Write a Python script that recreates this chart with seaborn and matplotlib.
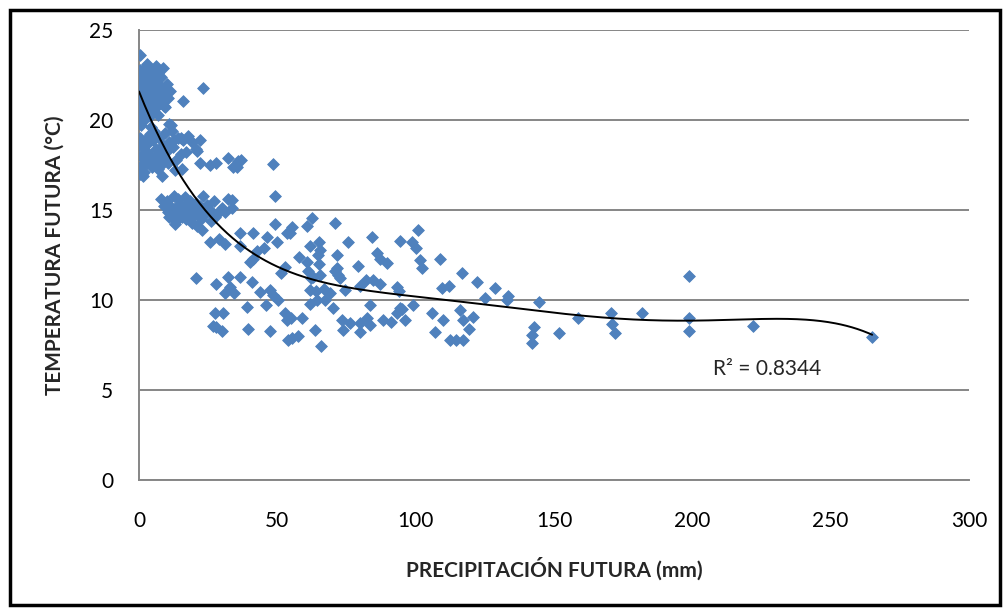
import numpy as np
import pandas as pd
import matplotlib
matplotlib.use("Agg")
import matplotlib.pyplot as plt
import seaborn as sns
from matplotlib.patches import Rectangle

# ---- data ----
precip_a = [0.3, 0.5, 0.2, 0.8, 0.4, 0.1, 0.6, 0.3, 1.2, 1.5, 1.1, 1.8, 1.4, 2.0, 2.3, 2.6, 2.1, 2.9,
            3.3, 3.5, 3.8, 4.1, 4.4, 4.7, 5.0, 5.3, 5.6, 6.0, 6.2, 6.6, 7.0, 7.3, 7.7, 8.1, 8.5, 9.0,
            9.4, 10.0, 10.5, 11.3, 0.2, 1.0, 0.7, 2.4, 4.0, 16.0, 23.0, 9.4, 6.8, 0.1, 0.0, 0.0, 3.0,
            5.5, 8.7, 1.7, 2.7, 3.9, 4.9, 0.9, 1.3, 6.4, 7.9, 0.5, 2.2]
temp_a = [23.6, 22.8, 22.4, 22.1, 21.7, 21.3, 21.0, 20.6, 22.6, 22.0, 21.5, 21.2, 20.8, 22.9, 22.3, 21.8, 21.0, 20.5,
          22.6, 21.4, 22.0, 20.9, 22.8, 21.6, 22.3, 21.1, 20.6, 23.0, 22.1, 21.5, 22.6, 20.9, 21.9, 22.4, 21.3, 20.8,
          21.7, 22.0, 21.2, 21.6, 20.2, 20.0, 19.7, 20.1, 20.2, 21.05, 21.8, 20.7, 20.3, 22.0, 21.5, 22.6, 23.1,
          22.7, 22.9, 21.6, 22.5, 21.2, 21.9, 22.5, 21.9, 22.4, 21.1, 22.2, 21.4]

precip_b = [0.2, 0.5, 1.0, 1.3, 0.7, 2.0, 2.5, 3.0, 3.4, 3.8, 4.3, 4.6, 5.0, 5.4, 5.8, 6.3, 6.8, 7.2, 7.6,
            8.0, 8.5, 9.0, 9.5, 10.0, 10.6, 11.0, 11.6, 12.2, 12.8, 13.3, 14.0, 15.0, 16.0, 17.0, 17.7,
            19.0, 20.5, 21.0, 22.0, 22.0, 25.7, 28.0, 32.0, 35.4, 37.0, 11.0, 12.0, 15.0, 15.5, 4.5, 2.8,
            1.6, 13.0, 8.2, 0.1, 0.4, 1.9, 3.1, 6.1]
temp_b = [17.3, 17.0, 17.5, 16.9, 18.0, 17.8, 18.3, 17.6, 18.7, 19.2, 18.0, 17.4, 18.9, 19.4, 17.8, 18.4, 17.3, 19.0, 18.1,
          17.5, 18.6, 17.9, 19.3, 18.3, 17.6, 18.8, 19.7, 18.5, 18.9, 17.8, 19.0, 18.1, 18.9, 18.2, 19.1,
          18.8, 18.4, 18.3, 18.9, 17.6, 17.5, 17.6, 17.9, 17.4, 17.8, 19.8, 19.4, 19.0, 17.3, 19.6, 19.0,
          18.5, 17.2, 16.9, 18.6, 19.0, 17.1, 18.9, 17.9]

precip_c = [8, 9, 10, 10.5, 11, 12, 12.5, 13, 13.5, 14, 14.5, 15, 15.5, 16, 16.5, 17, 17.5, 18, 18.5, 19,
            19.5, 20, 20.5, 21, 21.5, 22, 22.5, 23, 24, 24.5, 25.5, 26, 27, 27.5, 29, 30, 31, 32, 33.6,
            33.6, 13, 11, 22.8, 25.7, 29, 31, 34, 35.8]
temp_c = [15.6, 15.2, 15.5, 14.9, 15.3, 14.7, 15.8, 15.1, 14.4, 15.6, 14.9, 15.3, 14.6, 15.0, 15.7, 14.5, 15.2, 14.8, 15.5, 14.3,
          15.0, 14.7, 15.4, 14.1, 14.9, 15.2, 14.5, 15.8, 14.8, 15.3, 15.0, 14.4, 15.5, 14.6, 14.9, 15.1, 14.9, 15.6, 15.55,
          15.1, 14.2, 14.6, 13.9, 13.2, 13.4, 13.1, 17.4, 17.7]

precip_d = [48.5, 49, 49, 55.3, 54.5, 60.7, 62.5, 70.8, 100.8, 94.3, 98.7, 100, 75.5, 84.2, 50, 61.8, 65.2, 65.5,
            58, 60.7, 64.7, 65, 71.5, 71.5, 86, 87, 89.6, 101.5, 102.3, 108.8, 79, 52.8, 51.5, 63, 65.4, 72,
            72.5, 36.5, 36.5, 41.2, 46.3, 42.6, 45, 40, 41.2, 53.5, 20.6, 27.8, 32, 36.5, 33, 31, 34.5,
            40.8, 43.7, 48.4, 50.2, 62, 61, 71, 61.8, 64, 67, 69, 74.4, 79.9, 82, 84.6, 87, 93.2, 94,
            109.5, 112, 116.7, 122, 128.6, 125, 133, 133.5, 144.6, 47.3, 61.8, 64.5, 67.2, 70, 83.5, 94.3,
            99, 106, 116, 27.5, 30.5, 39, 46, 52.8, 53.5, 55, 59, 28, 30, 39.4, 47.3, 26.7, 55.3, 57.5,
            53.8, 63.6, 65.8, 73.4, 73.7, 76.3, 80, 82.4, 83.5, 80, 88.2, 91, 93.2, 95, 96.2, 107, 110,
            112.4, 114.7, 117, 117, 119.3, 120.7, 142.8, 142, 142, 151.8, 158.7, 170.6, 171, 172, 181.8,
            198.8, 198.8, 198.8, 222, 265]
temp_d = [17.55, 15.8, 14.2, 14.05, 13.7, 14.1, 14.55, 14.3, 13.9, 13.3, 13.2, 12.9, 13.2, 13.5, 13.2, 13.0, 13.25, 12.8,
          12.4, 12.1, 12.5, 12.0, 12.5, 11.8, 12.6, 12.3, 12.05, 12.2, 11.8, 12.3, 11.9, 11.85, 11.5, 11.3, 11.4, 11.4,
          11.2, 13.7, 13.0, 13.7, 13.5, 12.7, 12.9, 12.1, 12.3, 13.7, 11.2, 10.9, 11.3, 11.3, 10.75, 10.4, 10.4,
          11.0, 10.45, 10.3, 10.0, 11.2, 11.6, 11.6, 10.55, 10.5, 10.6, 10.4, 10.55, 10.8, 11.1, 11.1, 10.9, 10.7, 10.5,
          10.65, 10.8, 11.5, 11.0, 10.65, 10.1, 10.0, 10.25, 9.9, 10.55, 9.8, 10.0, 10.0, 9.55, 9.7, 9.55,
          9.7, 9.3, 9.45, 9.3, 9.3, 9.6, 9.7, 9.3, 8.9, 9.0, 9.0, 8.5, 8.3, 8.4, 8.3, 8.55, 7.9, 8.0,
          7.8, 8.35, 7.45, 8.9, 8.35, 8.7, 8.7, 9.0, 8.6, 8.2, 8.9, 8.8, 9.3, 9.5, 8.9, 8.2, 8.9,
          7.8, 7.8, 7.8, 8.9, 8.4, 9.05, 8.5, 8.05, 7.6, 8.15, 9.0, 9.3, 8.65, 8.15, 9.3,
          11.35, 9.0, 8.3, 8.55, 7.95]

precip = precip_a + precip_b + precip_c + precip_d
temp = temp_a + temp_b + temp_c + temp_d

x_ticks = [0, 50, 100, 150, 200, 250, 300]
y_ticks = [0, 5, 10, 15, 20, 25]
r2_label = "R\u00b2 = 0.8344"
x_label = "PRECIPITACIÓN FUTURA (mm)"
y_label = "TEMPERATURA FUTURA (°C)"

df = pd.DataFrame({"precip": precip, "temp": temp})

# ---- plot ----
sns.set_theme(style="white")
plt.rcParams["font.family"] = ["Lato", "DejaVu Sans"]

fig = plt.figure(figsize=(10.08, 6.15), dpi=100)
ax = fig.add_axes([139 / 1008, 1 - 480 / 615, (969 - 139) / 1008, (480 - 30) / 615])

blue = "#4F81BD"
grid_c = "#868686"

sns.scatterplot(data=df, x="precip", y="temp", marker="D", s=36, color=blue,
                edgecolor=blue, linewidth=0.6, ax=ax, zorder=3)

# polynomial trendline (order 5) fitted on the data
coef = np.polyfit(df["precip"], df["temp"], 5)
xs = np.linspace(0, max(precip), 400)
ys = np.polyval(coef, xs)
sns.lineplot(x=xs, y=ys, color="black", linewidth=1.4, ax=ax, zorder=4)

ax.set_xlim(0, 300)
ax.set_ylim(0, 25)
ax.set_xticks(x_ticks)
ax.set_yticks(y_ticks)
ax.tick_params(axis="both", length=0, labelsize=15, colors="black")
ax.tick_params(axis="x", pad=22)
ax.tick_params(axis="y", pad=18.5)
ax.yaxis.grid(True, color=grid_c, linewidth=1.4)
ax.xaxis.grid(False)
for s in ["top", "right"]:
    ax.spines[s].set_visible(False)
for s in ["left", "bottom"]:
    ax.spines[s].set_color(grid_c)
    ax.spines[s].set_linewidth(1.4)
ax.set_axisbelow(True)

ax.set_xlabel(x_label, fontsize=15, fontweight="bold")
ax.set_ylabel(y_label, fontsize=15, fontweight="bold")
ax.xaxis.label.set_va("center")
ax.yaxis.label.set_va("center")
ax.xaxis.set_label_coords(0.5, (480 - 569) / 450)
ax.yaxis.set_label_coords((55 - 139) / 830, 0.5)

ax.text(227, 6.15, r2_label, fontsize=15, ha="center", va="center")

# outer frame
fig.patches.append(Rectangle((10 / 1008, 10 / 615), 990 / 1008, 595 / 615,
                             transform=fig.transFigure, fill=False,
                             edgecolor="black", linewidth=2.5))

fig.savefig("out.png", dpi=100)
